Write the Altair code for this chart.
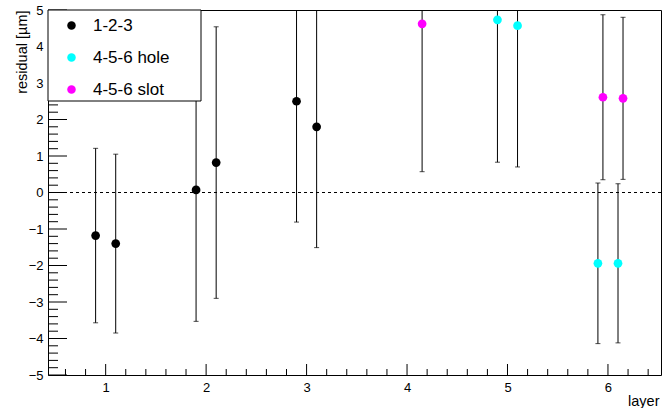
import altair as alt
import pandas as pd

# ---------------- data ----------------
series_names = ["1-2-3", "4-5-6 hole", "4-5-6 slot"]
series_colors = ["#000000", "#00ffff", "#ff00ff"]

s123_x = [0.9, 1.1, 1.9, 2.1, 2.9, 3.1]
s123_y = [-1.18, -1.40, 0.07, 0.82, 2.50, 1.80]
s123_e = [2.39, 2.45, 3.60, 3.72, 3.31, 3.31]

hole_x = [4.9, 5.1, 5.9, 6.1]
hole_y = [4.73, 4.57, -1.94, -1.94]
hole_e = [3.90, 3.87, 2.20, 2.18]

slot_x = [4.15, 5.95, 6.15]
slot_y = [4.62, 2.61, 2.58]
slot_e = [4.05, 2.26, 2.22]

x_labels = [1, 2, 3, 4, 5, 6]
y_labels = [-5, -4, -3, -2, -1, 0, 1, 2, 3, 4, 5]
x_minor = [round(0.6 + 0.2 * i, 1) for i in range(30)]
x_minor = [v for v in x_minor if abs(v - round(v)) > 1e-6]
y_minor = [round(-5 + 0.2 * i, 1) for i in range(51)]
y_minor = [v for v in y_minor if abs(v - round(v)) > 1e-6]

rows = []
for name, xs_, ys_, es_ in [(series_names[0], s123_x, s123_y, s123_e),
                            (series_names[1], hole_x, hole_y, hole_e),
                            (series_names[2], slot_x, slot_y, slot_e)]:
    for xv, yv, ev in zip(xs_, ys_, es_):
        rows.append({"series": name, "x": xv, "y": yv, "lo": yv - ev, "hi": yv + ev})
df = pd.DataFrame(rows)
caps = df.melt(id_vars=["series", "x"], value_vars=["lo", "hi"], value_name="cap")

W, H = 613, 365
XDOM = [0.426, 6.528]
YDOM = [-5, 5]
FONT = "Liberation Sans"

xs = alt.Scale(domain=XDOM, nice=False, zero=False)
ys = alt.Scale(domain=YDOM, nice=False, zero=False)

XAX = alt.Axis(
    orient="bottom", values=x_labels, format="d", ticks=False, domain=False, grid=False,
    labelFontSize=13, labelPadding=6, labelFlush=False, labelColor="#000000", labelFont=FONT,
    title="layer", titleFont=FONT, titleFontSize=14.5, titleFontWeight="normal",
    titleColor="#000000", titleAlign="right", titleBaseline="alphabetic",
    titleX=W - 2, titleY=30)
YAX = alt.Axis(
    orient="left", values=y_labels, format="d", ticks=False, domain=False, grid=False,
    labelFontSize=13, labelPadding=5, labelFlush=False, labelColor="#000000", labelFont=FONT,
    title="residual [µm]", titleFont=FONT, titleFontSize=14.5, titleFontWeight="normal",
    titleColor="#000000", titleAngle=-90, titleAlign="right", titleBaseline="middle",
    titleX=-26, titleY=0)


def X(field):
    return alt.X(field, scale=xs, axis=XAX)


def Y(field):
    return alt.Y(field, scale=ys, axis=YAX)


color = alt.Color("series:N", scale=alt.Scale(domain=series_names, range=series_colors),
                  legend=alt.Legend(orient="none", legendX=0, legendY=-8, title=None,
                                    labelFontSize=17, labelFont=FONT, labelColor="#000000",
                                    symbolType="circle", symbolSize=72, symbolStrokeWidth=0,
                                    labelOffset=13, rowPadding=14, padding=15, zindex=1))

base = alt.Chart(df)

bars = base.mark_rule(color="black", strokeWidth=1, clip=True).encode(
    x=X("x:Q"), y=Y("lo:Q"), y2="hi:Q")

zero_line = alt.Chart(pd.DataFrame({"z": [0]})).mark_rule(
    color="black", strokeWidth=1, strokeDash=[3, 3]).encode(y=Y("z:Q"))

cap_marks = alt.Chart(caps).mark_tick(orient="horizontal", size=5, thickness=1,
                                      color="black", clip=True).encode(
    x=X("x:Q"), y=Y("cap:Q"))

points = base.mark_circle(size=76, opacity=1).encode(
    x=X("x:Q"), y=Y("y:Q"), color=color)

legend_box = alt.Chart(pd.DataFrame({"a": [0]})).mark_rect(
    fill="white", stroke="black", strokeWidth=1).encode(
    x=alt.value(0), x2=alt.value(153), y=alt.value(0), y2=alt.value(91))


def y_ticks(vals, length):
    return alt.Chart(pd.DataFrame({"v": vals})).mark_rule(color="black", strokeWidth=1).encode(
        y=Y("v:Q"), x=alt.value(0), x2=alt.value(length))


def x_ticks(vals, length):
    return alt.Chart(pd.DataFrame({"v": vals})).mark_rule(color="black", strokeWidth=1).encode(
        x=X("v:Q"), y=alt.value(H), y2=alt.value(H - length))


chart = alt.layer(
    bars,
    zero_line,
    y_ticks(y_labels, 19), y_ticks(y_minor, 10),
    x_ticks(x_labels, 11), x_ticks(x_minor, 6),
    cap_marks, points, legend_box,
).properties(
    width=W, height=H,
    autosize=alt.AutoSizeParams(type="none"),
    padding={"left": 48, "top": 10, "right": 3, "bottom": 33},
    background="white").configure_view(stroke="black", strokeWidth=1)

chart.save("out.html", embed_options={"renderer": "svg", "actions": False})
